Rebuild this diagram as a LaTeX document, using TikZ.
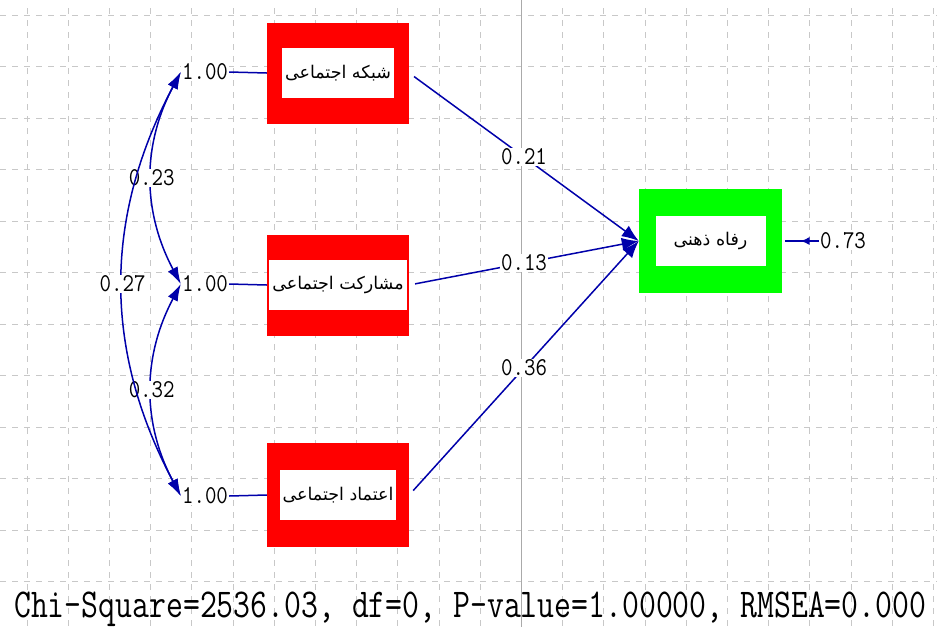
\documentclass[tikz,border=0pt]{standalone}
\usepackage{fontspec}
\usepackage{graphicx}
\newfontfamily\fafont[Script=Arabic]{DejaVu Sans}
\TeXXeTstate=1
\usetikzlibrary{arrows.meta,decorations.markings}

\definecolor{pathblue}{RGB}{0,0,170}
\definecolor{gridgray}{RGB}{200,200,200}
\definecolor{boxred}{RGB}{255,0,0}
\definecolor{boxgreen}{RGB}{0,255,0}

\newcommand{\numtxt}[1]{\scalebox{1}[1.15]{#1}}
\newcommand{\fatxt}[1]{\fafont\beginR #1\endR}

\tikzset{
  outbox/.style={draw=none, minimum width=142pt, minimum height=101pt, inner sep=0pt},
  inbox/.style={fill=white, minimum height=50pt, minimum width=110pt, inner xsep=3pt, inner ysep=0pt, font=\fontsize{17.5}{19}\selectfont},
  coef/.style={fill=white, text=black, inner sep=1pt, font=\fontsize{22.3}{24}\ttfamily},
  gridline/.style={gridgray, line width=1pt, dash pattern=on 6pt off 6pt},
  pathline/.style={pathblue, line width=1.5pt, -{Latex[length=17pt,width=13pt]}},
  covline/.style={pathblue, line width=1.5pt, {Latex[length=17pt,width=11pt]}-{Latex[length=17pt,width=11pt]}},
  errline/.style={pathblue, line width=1.5pt, postaction={decorate},
    decoration={markings, mark=at position 0.5 with {\arrow{Latex[length=9pt,width=8pt]}}}},
}

\begin{document}
\begin{tikzpicture}[x=1pt,y=-1pt]
  \useasboundingbox (0,0) rectangle (937,627);
  \fill[white] (0,0) rectangle (937,627);

  % grid
  \foreach \i in {0,...,11}
    \draw[gridline] (0,15+51.5*\i) -- (937,15+51.5*\i);
  \foreach \i in {0,...,22}
    \draw[gridline] (27+41.2*\i,8) -- (27+41.2*\i,627);
  \draw[gridgray!85!black, line width=1pt] (521.4,0) -- (521.4,627);

  % boxes
  \node[outbox, fill=boxred] (net) at (338,73) {};
  \node[inbox] (netin) at (net) {\fatxt{شبکه اجتماعی}};
  \node[outbox, fill=boxred] (part) at (338,285) {};
  \node[inbox] (partin) at (part) {\fatxt{مشارکت اجتماعی}};
  \node[outbox, fill=boxred, minimum height=104pt] (trust) at (338,495) {};
  \node[inbox] (trustin) at (trust) {\fatxt{اعتماد اجتماعی}};
  \node[outbox, fill=boxgreen, minimum width=143pt, minimum height=104pt] (wellb) at (710.5,241) {};
  \node[inbox] (wellbin) at (wellb) {\fatxt{رفاه ذهنی}};

  % variances
  \node[coef] (v1) at (205,72) {\numtxt{1.00}};
  \node[coef] (v2) at (205,284) {\numtxt{1.00}};
  \node[coef] (v3) at (205,496) {\numtxt{1.00}};
  \draw[pathblue, line width=1.5pt] (v1.east) -- (net.west);
  \draw[pathblue, line width=1.5pt] (v2.east) -- (part.west);
  \draw[pathblue, line width=1.5pt] (v3.east) -- (trust.west);

  % covariances
  \draw[covline] (v1.west) to[bend right=28] node[coef] {\numtxt{0.23}} (v2.west);
  \draw[covline] (v2.west) to[bend right=28] node[coef] {\numtxt{0.32}} (v3.west);
  \draw[covline] (v1.west) to[bend right=28] node[coef] {\numtxt{0.27}} (v3.west);

  % paths
  \draw[pathline, shorten <=6pt] (net.east) -- node[coef] {\numtxt{0.21}} (wellb.west);
  \draw[pathline, shorten <=6pt] (part.east) -- node[coef] {\numtxt{0.13}} (wellb.west);
  \draw[pathline, shorten <=6pt] (trust.east) -- node[coef] {\numtxt{0.36}} (wellb.west);

  % error
  \node[coef] (e1) at (843,241) {\numtxt{0.73}};
  \draw[errline, shorten >=3pt] (e1.west) -- (wellb.east);

  % fit
  \node[font=\fontsize{32.8}{34}\ttfamily, anchor=west, inner sep=0pt] (fit) at (14,609)
    {\scalebox{1}[1.25]{Chi-Square=2536.03, df=0, P-value=1.00000, RMSEA=0.000}};
\end{tikzpicture}
\end{document}
